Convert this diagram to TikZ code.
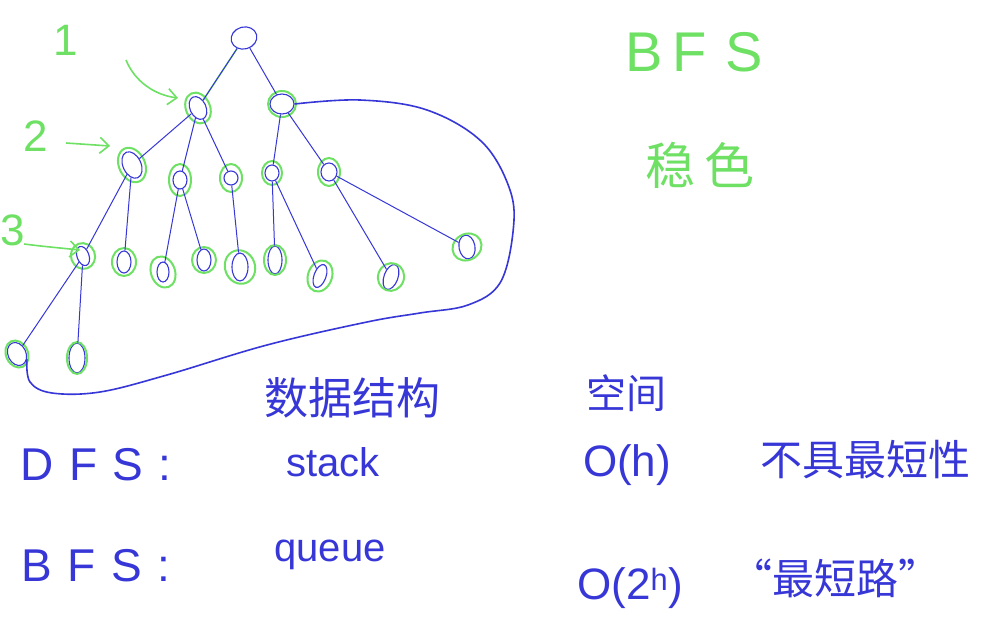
\documentclass[tikz,border=0pt]{standalone}
\usepackage{fontspec}
\setmainfont{Liberation Sans}
\newfontfamily\cjk{Noto Sans CJK SC}
\usetikzlibrary{shapes.geometric,arrows.meta}
\definecolor{pen}{RGB}{55,55,215}
\definecolor{grn}{RGB}{110,225,100}
\tikzset{
  bn/.style={draw=pen, ellipse, line width=1.1pt, inner sep=0pt},
  gr/.style={draw=grn, line width=2pt},
  edge/.style={draw=pen, line width=1pt},
  garrow/.style={draw=grn, line width=1.6pt, -{Straight Barb[length=9pt,width=16pt]}},
  gtxt/.style={text=grn, font=\fontsize{44}{44}\selectfont},
  btxt/.style={text=pen, font=\fontsize{40}{40}\selectfont},
  ctxt/.style={text=pen, font=\cjk\fontsize{40}{40}\selectfont},
}
\begin{document}
\begin{tikzpicture}[x=1pt,y=-1pt]
\useasboundingbox (0,0) rectangle (994,624);
\fill[white] (0,0) rectangle (994,624);

% tree nodes
\node[bn, minimum width=26, minimum height=22, rotate=15] (root) at (244,38) {};
\node[bn, minimum width=16, minimum height=24, rotate=25] (A) at (198,108) {};
\node[bn, minimum width=24, minimum height=20] (B) at (282,104) {};
\node[bn, minimum width=18, minimum height=28, rotate=25] (C) at (132,165) {};
\node[bn, minimum width=14, minimum height=18] (D) at (180,180) {};
\node[bn, minimum width=14, minimum height=14] (E) at (231,178) {};
\node[bn, minimum width=14, minimum height=16] (F) at (272,173) {};
\node[bn, minimum width=16, minimum height=18] (G) at (329,172) {};
\node[bn, minimum width=12, minimum height=20, rotate=20] (H) at (83,256) {};
\node[bn, minimum width=14, minimum height=22] (I) at (124,262) {};
\node[bn, minimum width=12, minimum height=20] (J) at (163,272) {};
\node[bn, minimum width=14, minimum height=22] (K) at (204,260) {};
\node[bn, minimum width=16, minimum height=28] (L) at (240,267) {};
\node[bn, minimum width=14, minimum height=28] (M) at (275,260) {};
\node[bn, minimum width=12, minimum height=24, rotate=-20] (N) at (320,276) {};
\node[bn, minimum width=14, minimum height=26, rotate=-20] (O) at (391,277) {};
\node[bn, minimum width=16, minimum height=24, rotate=10] (P) at (467,247) {};
\node[bn, minimum width=18, minimum height=24, rotate=25] (Q) at (17,354) {};
\node[bn, minimum width=16, minimum height=30] (R) at (77,358) {};

% green rings
\draw[gr, rotate around={25:(A.center)}] (A.center) ellipse [x radius=12, y radius=16];
\draw[gr] (B.center) ellipse [x radius=14, y radius=13];
\draw[gr, rotate around={25:(C.center)}] (C.center) ellipse [x radius=13, y radius=18];
\draw[gr] (D.center) ellipse [x radius=11, y radius=16];
\draw[gr] (E.center) ellipse [x radius=11, y radius=14];
\draw[gr] (F.center) ellipse [x radius=10, y radius=12];
\draw[gr] (G.center) ellipse [x radius=11, y radius=14];
\draw[gr, rotate around={20:(H.center)}] (H.center) ellipse [x radius=12, y radius=13];
\draw[gr] (I.center) ellipse [x radius=12, y radius=14];
\draw[gr, rotate around={20:(J.center)}] (J.center) ellipse [x radius=12, y radius=16];
\draw[gr] (K.center) ellipse [x radius=12, y radius=13];
\draw[gr, rotate around={20:(L.center)}] (L.center) ellipse [x radius=15, y radius=17];
\draw[gr] (M.center) ellipse [x radius=11, y radius=15];
\draw[gr, rotate around={-20:(N.center)}] (N.center) ellipse [x radius=12, y radius=16];
\draw[gr, rotate around={-20:(O.center)}] (O.center) ellipse [x radius=13, y radius=14];
\draw[gr, rotate around={30:(P.center)}] (P.center) ellipse [x radius=15, y radius=13];
\draw[gr, rotate around={25:(Q.center)}] (Q.center) ellipse [x radius=11, y radius=14];
\draw[gr] (R.center) ellipse [x radius=10, y radius=16];

% tree edges
\draw[draw=grn, line width=1.5pt] (root) -- (A);
\draw[edge] (root) -- (A);
\draw[edge] (root) -- (B);
\draw[edge] (A) -- (C);
\draw[edge] (A) -- (D);
\draw[edge] (A) -- (E);
\draw[edge] (B) -- (F);
\draw[edge] (B) -- (G);
\draw[edge] (C) -- (H);
\draw[edge] (C) -- (I);
\draw[edge] (D) -- (J);
\draw[edge] (D) -- (K);
\draw[edge] (E) -- (L);
\draw[edge] (F) -- (M);
\draw[edge] (F) -- (N);
\draw[edge] (G) -- (O);
\draw[edge] (G) -- (P);
\draw[edge] (H) -- (Q);
\draw[edge] (H) -- (R);

% big enclosing curve
\draw[pen, line width=1.6pt] plot[smooth, tension=0.6] coordinates {
  (B.east) (360,100) (427,110) (482,142) (510,190) (513,232) (500,283)
  (468,305) (420,313) (367,322) (267,345) (167,375) (100,392) (52,393)
  (30,382) (Q.south east)};

% level labels and arrows
\node[gtxt] (l1) at (66,40) {1};
\node[gtxt] (l2) at (36,136) {2};
\node[gtxt] (l3) at (13,230) {3};
\coordinate (a1s) at (126,60);
\coordinate (a1e) at (178,98);
\coordinate (a2s) at (66,143);
\coordinate (a2e) at (110,146);
\coordinate (a3s) at (24,244);
\coordinate (a3e) at (80,250);
\draw[garrow] (a1s) .. controls (135,82) and (155,95) .. (a1e);
\draw[garrow] (a2s) -- (a2e);
\draw[garrow] (a3s) .. controls (40,246) .. (a3e);

% green titles
\node[gtxt, font=\fontsize{56}{56}\selectfont] (bfst) at (694,52) {B\,F\,\,S};
\node[gtxt, font=\cjk\fontsize{50}{50}\selectfont] (wen) at (700,165) {稳\,色};

% table
\node[ctxt, font=\cjk\fontsize{44}{44}\selectfont] (h1) at (352,398) {数据结构};
\node[ctxt] (h2) at (626,393) {空间};
\node[btxt, font=\fontsize{46}{46}\selectfont] (dfs) at (96,465) {D\,\,F\,\,S\,\,:};
\node[btxt] (stack) at (333,462) {stack};
\node[btxt, font=\fontsize{44}{44}\selectfont] (oh) at (627,465) {O(h)};
\node[ctxt, font=\cjk\fontsize{42}{42}\selectfont] (bu) at (865,460) {不具最短性};
\node[btxt, font=\fontsize{46}{46}\selectfont] (bfs) at (96,566) {B\,\,F\,\,S\,\,:};
\node[btxt] (queue) at (330,555) {queue};
\node[btxt, font=\fontsize{44}{44}\selectfont] (o2h) at (630,588) {O(2\textsuperscript{h})};
\node[ctxt, font=\cjk\fontsize{42}{42}\selectfont] (zui) at (835,578) {“最短路”};
\end{tikzpicture}
\end{document}
